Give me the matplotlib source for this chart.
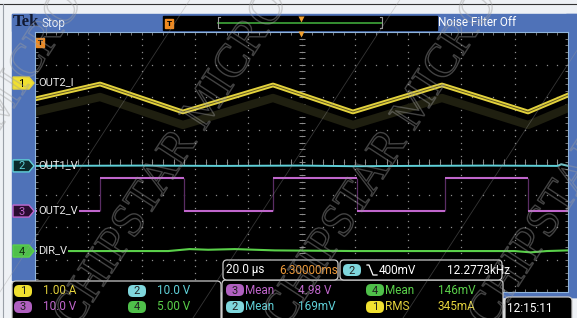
import matplotlib
matplotlib.use("Agg")
import matplotlib.pyplot as plt
import matplotlib.patches as mpatches
import matplotlib.patheffects as pe
import matplotlib.transforms as mtransforms
import numpy as np

W, H = 577, 318
SANS = ["Roboto", "DejaVu Sans"]

# horizontal setting: 20 us/div, trigger at screen centre
time_per_div = 20.0

# channel setup (scale per div, ground marker position in divisions)
ch_names = ["OUT2_I", "OUT1_V", "OUT2_V", "DIR_V"]
ch_scale = [1.0, 10.0, 10.0, 5.0]
ch_offset = [2.43, -0.12, -1.51, -2.74]
ch_colors = ["#e3d23c", "#5fd0d8", "#c066cc", "#5ad04a"]
badge_fill = ["#f0e030", "#7fd6dc", "#b060c0", "#4fc04a"]

# CH1: inductor current, A (triangle)
t1 = [-100, -75.6, -44.5, -10.7, 19.3, 52.7, 85.0, 100]
i1 = [-0.49, -0.03, -0.89, -0.06, -0.89, -0.06, -0.89, -0.37]

# CH2: flat
t2 = [-100, -60, -30, 0, 20, 40, 70, 96, 97.5, 100]
v2 = [0.0, 0.1, 0.0, 0.1, -0.1, 0.0, 0.1, 0.0, 0.5, 0.0]

# CH3: square wave, edge times and level of each segment (V)
t3 = [-100, -75.6, -44.1, -10.7, 20.8, 53.8, 85.0, 100]
v3 = [0.0, 10.2, 0.0, 10.2, 0.0, 10.2, 0.0]

# CH4: flat with small wobble
t4 = [-100, -50, -42, -35, -25, -10, 20, 60, 80, 86, 92, 100]
v4 = [0.0, 0.0, 0.3, 0.2, 0.3, 0.1, 0.0, 0.0, 0.0, -0.2, 0.0, 0.1]

# readouts
ch_settings = ["1.00 A", "10.0 V", "10.0 V", "5.00 V"]
horiz_scale = "20.0 \u00b5s"
horiz_pos = "6.30000ms"
trig_level = "400mV"
trig_freq = "12.2773kHz"
meas_ch = [3, 4, 2, 1]
meas_name = ["Mean", "Mean", "Mean", "RMS"]
meas_val = ["4.98 V", "146mV", "169mV", "345mA"]
clock = "12:15:11"

fig = plt.figure(figsize=(W / 100, H / 100), dpi=100)
fig.patch.set_facecolor("#eef1f5")

bg = fig.add_axes([0, 0, 1, 1])
bg.set_xlim(0, W)
bg.set_ylim(H, 0)
bg.axis("off")

blue = "#4f72b8"
# window frame lines
bg.plot([0, W], [4, 4], color="#333333", lw=0.8)
bg.plot([3, 3], [4, H], color="#9aa0a8", lw=0.8)
# header band, left strip, right strip
bg.add_patch(mpatches.Rectangle((12, 14), W - 12, 17, color=blue))
bg.add_patch(mpatches.Rectangle((12, 14), 23, 266, color=blue))
bg.add_patch(mpatches.Rectangle((566, 14), 11, 283, color=blue))
bg.add_patch(mpatches.Rectangle((502, 291), 75, 6, color=blue))

# scope screen
scope = fig.add_axes([35 / W, 1 - 292 / H, 533 / W, 260 / H], zorder=1)
scope.set_facecolor("black")
scope.set_xlim(-5 * time_per_div, 5 * time_per_div)
scope.set_ylim(-4, 4)
scope.set_xticks(np.arange(-100, 101, 4))
scope.set_yticks(np.arange(-4, 4.01, 0.2))
scope.tick_params(direction="in", length=2.5, width=0.6, color="#8a8a8a",
                  top=True, right=True, labelbottom=False, labelleft=False)
for s in scope.spines.values():
    s.set_color("#8fb4dc")
    s.set_linewidth(0.8)

# dotted graticule
gx = np.arange(-80, 81, 20)
gy = np.arange(-3, 4, 1)
sub_y = np.arange(-4, 4.01, 0.2)
sub_x = np.arange(-100, 101, 4)
for x in gx:
    scope.plot(np.full_like(sub_y, x), sub_y, ls="none", marker="s", ms=0.9,
               mec="none", mfc="#8c8c8c")
for y in gy:
    scope.plot(sub_x, np.full_like(sub_x, y, dtype=float), ls="none", marker="s",
               ms=0.9, mec="none", mfc="#8c8c8c")
# centre cross ticks
scope.plot(np.zeros_like(sub_y), sub_y, ls="none", marker="_", ms=4, mew=0.7,
           color="#8c8c8c")
scope.plot(sub_x, np.zeros_like(sub_x, dtype=float), ls="none", marker="|",
           ms=4, mew=0.7, color="#8c8c8c")


def to_div(vals, ch):
    return np.asarray(vals) / ch_scale[ch] + ch_offset[ch]


# CH1 with persistence ghost
ghost = mtransforms.offset_copy(scope.transData, fig=fig, y=-13, units="dots")
scope.plot(t1, to_div(i1, 0), color="#1f1f10", lw=6, transform=ghost)
scope.plot(t1, to_div(i1, 0), color=ch_colors[0], lw=3.4)
scope.plot(t1, to_div(i1, 0), color="#5e5622", lw=0.7)

# CH2
scope.plot(t2, to_div(v2, 1), color=ch_colors[1], lw=1.4)

# CH3
lv = to_div(v3, 2)
scope.vlines(t3[1:-1], to_div([0.0], 2)[0], to_div([max(v3)], 2)[0],
             color="#5a2d64", lw=0.9)
scope.hlines(lv, t3[:-1], t3[1:], color=ch_colors[2], lw=1.5)

# CH4
scope.plot(t4, to_div(v4, 3), color=ch_colors[3], lw=1.5)

# overlay axes for labels and readouts
ov = fig.add_axes([0, 0, 1, 1], zorder=2)
ov.set_xlim(0, W)
ov.set_ylim(H, 0)
ov.axis("off")
ov.patch.set_alpha(0)


def txt(x, y, s, color, size=8.5, **kw):
    return ov.text(x, y, s, fontsize=size, color=color, family=SANS,
                   va="center", **kw)


# header
ov.text(13, 22.5, "Tek", fontsize=12, fontweight="bold", color="#101830",
        family="Liberation Serif", va="center")
txt(42, 23, "Stop", "#e8eef8", size=8.5)
ov.add_patch(mpatches.Rectangle((163, 16), 274, 13.5, color="black"))
ov.plot([218, 382], [22.5, 22.5], color="#3fa83a", lw=1.2)
ov.plot([220, 218, 218, 220], [17, 17, 28, 28], color="#9a9a9a", lw=0.8)
ov.plot([380, 382, 382, 380], [17, 17, 28, 28], color="#9a9a9a", lw=0.8)
ov.plot([301], [18.5], marker="v", ms=5, color="#f0a030", mec="none")
ov.add_patch(mpatches.Rectangle((165, 18.5), 8, 9, color="#f08a20"))
ov.text(169, 23.5, "T", fontsize=5, color="black", ha="center", va="center",
        fontweight="bold")
txt(438, 22.5, "Noise Filter Off", "white", size=8.5)

# trigger position / level markers on the screen
ov.plot([301], [34], marker="v", ms=5, color="#f0a030", mec="none")
ov.add_patch(mpatches.Rectangle((36, 38), 8, 9, color="#f08a20"))
ov.text(40, 43, "T", fontsize=5, color="black", ha="center", va="center",
        fontweight="bold")

# channel markers on the left
badge_txt = ["black", ch_colors[1], ch_colors[2], "#103010"]
badge_bg = [badge_fill[0], "#0c2a2c", "#2a0c30", badge_fill[3]]
for k in range(4):
    ypx = H - scope.transData.transform((0, ch_offset[k]))[1]
    poly = [(13, ypx - 6), (29, ypx - 6), (34, ypx), (29, ypx + 6), (13, ypx + 6)]
    ov.add_patch(mpatches.Polygon(poly, closed=True, fc=badge_bg[k],
                                  ec=ch_colors[k], lw=1))
    txt(21.5, ypx + 0.5, str(k + 1), badge_txt[k], size=8, ha="center")
    box = None
    if k >= 2:
        box = dict(boxstyle="square,pad=0.1", fc="black", ec="none")
    txt(38, ypx - 1, ch_names[k], "#e8e8e8", size=8, bbox=box)


def pill(x, y, n):
    ov.add_patch(mpatches.FancyBboxPatch((x - 9, y - 6), 18, 12,
                                         boxstyle="round,pad=0,rounding_size=5",
                                         fc=badge_fill[n - 1], ec="none"))
    txt(x, y + 0.5, str(n), "#202020", size=8, ha="center")


def panel(x0, y0, x1, y1):
    ov.add_patch(mpatches.FancyBboxPatch((x0, y0), x1 - x0, y1 - y0,
                                         boxstyle="round,pad=0,rounding_size=4",
                                         fc="black", ec="#c8c8c8", lw=0.9))


# vertical settings panel
panel(12, 281, 221, 322)
rows = [291, 307]
cols = [(23, 43), (137, 157)]
order = [(0, 0, 0), (1, 0, 1), (2, 1, 0), (3, 1, 1)]
for ch, r, c in order:
    pill(cols[c][0], rows[r], ch + 1)
    txt(cols[c][1], rows[r], ch_settings[ch], ch_colors[ch])

# measurements panel
panel(222, 280, 503, 322)
mpos = [(235, 290), (375, 290), (235, 307), (375, 307)]
for j in range(4):
    n = meas_ch[j]
    x, y = mpos[j]
    pill(x, y, n)
    txt(x + 10, y, meas_name[j], ch_colors[n - 1])
    txt(x + 63, y, meas_val[j], ch_colors[n - 1])

# horizontal and trigger readouts
panel(223, 260, 338, 280)
txt(226, 270, horiz_scale, "white")
txt(279, 270, horiz_pos, "#ee9a3a")
panel(340, 260, 502, 280)
pill(352, 270, 2)
ov.plot([367, 369, 373, 377], [265, 265, 275, 275], color="white", lw=0.9)
txt(379, 270, trig_level, "white")
txt(447, 270, trig_freq, "white")

# clock
panel(505, 297, 572, 322)
txt(507, 308, clock, "white")

# watermark: thin diagonal rules plus outlined lettering
wm_grey = (0.62, 0.62, 0.62, 0.42)
for x0 in [-40, 170, 380, 590]:
    ov.plot([x0 - 200, x0 + 60], [H + 20, H - 380], color=(0.6, 0.6, 0.6, 0.35),
            lw=0.6)
wm = "CHIPSTAR MICRO CHIPSTAR MICRO"
for x0, y0 in [(-130, 330), (75, 330), (285, 330), (490, 330)]:
    ov.text(x0, y0, wm, fontsize=34, family="Liberation Serif", rotation=57,
            rotation_mode="anchor", color=(0, 0, 0, 0), clip_on=True,
            path_effects=[pe.withStroke(linewidth=1.0, foreground=wm_grey)])

fig.savefig("out.png", dpi=100)
